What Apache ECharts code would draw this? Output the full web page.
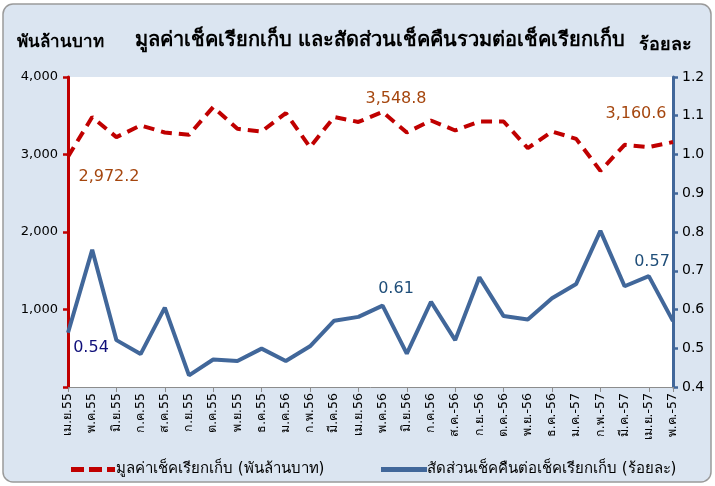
<!DOCTYPE html>
<html>
<head>
<meta charset="utf-8">
<script src="https://cdn.jsdelivr.net/npm/echarts@6/dist/echarts.min.js"></script>
<style>
  html, body { margin: 0; padding: 0; background: #fff; }
  #chart { width: 715px; height: 486px; }
</style>
</head>
<body>
<div id="chart"></div>
<script>
const FONT = "'DejaVu Sans', 'Noto Sans', sans-serif";

const months = [
  "เม.ย.55", "พ.ค.55", "มิ.ย.55", "ก.ค.55", "ส.ค.55", "ก.ย.55", "ต.ค.55", "พ.ย.55", "ธ.ค.55",
  "ม.ค.56", "ก.พ.56", "มี.ค.56", "เม.ย.56", "พ.ค.56", "มิ.ย.56", "ก.ค.56",
  "ส.ค.-56", "ก.ย.-56", "ต.ค.-56", "พ.ย.-56", "ธ.ค.-56",
  "ม.ค.-57", "ก.พ.-57", "มี.ค.-57", "เม.ย.-57", "พ.ค.-57",
];

// มูลค่าเช็คเรียกเก็บ (พันล้านบาท)
const chequeValue = [
  2972.2, 3483, 3224, 3375, 3284, 3254, 3612, 3332, 3297, 3535, 3095, 3483, 3420,
  3548.8, 3284, 3439, 3310, 3426, 3426, 3082, 3297, 3202, 2789, 3125, 3095, 3160.6,
];

// สัดส่วนเช็คคืนต่อเช็คเรียกเก็บ (ร้อยละ)
const returnRatio = [
  0.54, 0.754, 0.521, 0.485, 0.605, 0.43, 0.471, 0.467, 0.499, 0.467, 0.505, 0.571, 0.581,
  0.61, 0.486, 0.62, 0.521, 0.683, 0.583, 0.574, 0.629, 0.666, 0.803, 0.66, 0.686, 0.57,
];

// value labels: which point, what text, and where the text sits on the page
const valueLabels = {
  0: { text: "2,972.2", x: 109, y: 177 },
  13: { text: "3,548.8", x: 396, y: 99 },
  25: { text: "3,160.6", x: 636, y: 114 },
};
const ratioLabels = {
  0: { text: "0.54", x: 91, y: 348, navy: true },
  13: { text: "0.61", x: 396, y: 289 },
  24: { text: "0.57", x: 652, y: 262 },
};

function layoutFrom(table) {
  return (p) => {
    const spot = table[p.dataIndex];
    if (!spot) return {};
    return { x: spot.x, y: spot.y, align: "center", verticalAlign: "middle" };
  };
}

const chart = echarts.init(document.getElementById("chart"));

chart.setOption({
  backgroundColor: "#fff",
  animation: false,
  textStyle: { fontFamily: FONT },
  graphic: [
    {
      type: "rect",
      z: -10,
      shape: { x: 3, y: 4, width: 708, height: 478, r: 10 },
      style: { fill: "#dbe5f1", stroke: "#9a9a9a", lineWidth: 1.5 },
    },
  ],
  title: [
    {
      text: "มูลค่าเช็คเรียกเก็บ และสัดส่วนเช็คคืนรวมต่อเช็คเรียกเก็บ",
      left: 375, top: 26, textAlign: "center",
      textStyle: { fontSize: 20, fontWeight: "bold", color: "#000", fontFamily: FONT },
    },
    {
      text: "พันล้านบาท",
      left: 12, top: 29,
      textStyle: { fontSize: 17, fontWeight: "bold", color: "#000", fontFamily: FONT },
    },
    {
      text: "ร้อยละ",
      left: 634, top: 31,
      textStyle: { fontSize: 18, fontWeight: "bold", color: "#000", fontFamily: FONT },
    },
  ],
  legend: [
    {
      left: 66, top: 457,
      itemWidth: 44, itemHeight: 5, itemGap: 2,
      data: [{
        name: "มูลค่าเช็คเรียกเก็บ (พันล้านบาท)",
        icon: "path://M0,0h13v5h-13z M18,0h13v5h-13z M36,0h8v5h-8z",
      }],
      textStyle: { fontSize: 15, color: "#000", fontFamily: FONT, padding: [0, 0, 0, -4] },
    },
    {
      left: 376, top: 457,
      itemWidth: 46, itemHeight: 5,
      data: [{ name: "สัดส่วนเช็คคืนต่อเช็คเรียกเก็บ (ร้อยละ)", icon: "rect" }],
      textStyle: { fontSize: 15, color: "#000", fontFamily: FONT, padding: [0, 0, 0, -5] },
    },
  ],
  grid: {
    left: 68, right: 42, top: 77, bottom: 99,
    show: true, backgroundColor: "#fff", borderWidth: 0,
  },
  xAxis: {
    type: "category",
    data: months,
    boundaryGap: false,
    axisLine: { lineStyle: { color: "#8c8c8c", width: 1 } },
    axisTick: { interval: 1, length: 5, lineStyle: { color: "#8c8c8c" } },
    axisLabel: {
      interval: 0, rotate: 90, fontSize: 12.5, color: "#000", margin: 6, fontFamily: FONT,
    },
  },
  yAxis: [
    {
      type: "value",
      min: 0, max: 4000, interval: 1000,
      position: "left",
      splitLine: { show: false },
      axisLine: { show: true, lineStyle: { color: "#c00000", width: 3 } },
      axisTick: { show: true, length: 5, lineStyle: { color: "#c00000", width: 2.5 } },
      axisLabel: {
        fontSize: 13, color: "#000", margin: 10, fontFamily: FONT,
        formatter: (v) => (v === 0 ? "" : v.toLocaleString("en-US")),
      },
    },
    {
      type: "value",
      min: 0.4, max: 1.2, interval: 0.1,
      position: "right",
      splitLine: { show: false },
      axisLine: { show: true, lineStyle: { color: "#41679a", width: 3 } },
      axisTick: { show: true, length: 5, lineStyle: { color: "#41679a", width: 2.5 } },
      axisLabel: {
        fontSize: 14, color: "#000", margin: 9, fontFamily: FONT,
        formatter: (v) => v.toFixed(1),
      },
    },
  ],
  series: [
    {
      name: "มูลค่าเช็คเรียกเก็บ (พันล้านบาท)",
      type: "line",
      yAxisIndex: 0,
      data: chequeValue,
      symbol: "circle",
      symbolSize: 0,
      showSymbol: true,
      lineStyle: { color: "#c00000", width: 4, type: [11, 7] },
      itemStyle: { color: "#c00000" },
      label: {
        show: true,
        fontSize: 16, color: "#a5460e", fontFamily: FONT,
        formatter: (p) => (valueLabels[p.dataIndex] ? valueLabels[p.dataIndex].text : ""),
      },
      labelLayout: layoutFrom(valueLabels),
    },
    {
      name: "สัดส่วนเช็คคืนต่อเช็คเรียกเก็บ (ร้อยละ)",
      type: "line",
      yAxisIndex: 1,
      data: returnRatio,
      symbol: "circle",
      symbolSize: 0,
      showSymbol: true,
      lineStyle: { color: "#41679a", width: 4 },
      itemStyle: { color: "#41679a" },
      label: {
        show: true,
        fontSize: 16, color: "#1f4e79", fontFamily: FONT,
        formatter: (p) => {
          const spot = ratioLabels[p.dataIndex];
          if (!spot) return "";
          return spot.navy ? `{navy|${spot.text}}` : spot.text;
        },
        rich: { navy: { color: "#10107a", fontSize: 16, fontFamily: FONT } },
      },
      labelLayout: layoutFrom(ratioLabels),
    },
  ],
});
</script>
</body>
</html>
